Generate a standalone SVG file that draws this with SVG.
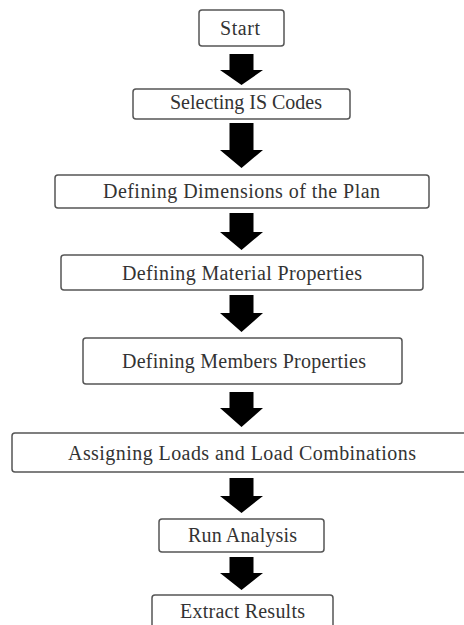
<svg xmlns="http://www.w3.org/2000/svg" width="464" height="625" viewBox="0 0 464 625">
<style>
.box{fill:#fff;stroke:#555;stroke-width:1.5}
.lbl{font-family:"Liberation Serif","Times New Roman",serif;font-size:20px;fill:#333;text-anchor:middle}
.arr{fill:#000}
</style>
<rect width="464" height="625" fill="#fff"/>
<g id="connectors">
<polygon class="arr" points="229.5,54 253.5,54 253.5,70 263,70 241.5,85 220,70 229.5,70"/>
<polygon class="arr" points="229.5,123 253.5,123 253.5,150 263,150 241.5,168 220,150 229.5,150"/>
<polygon class="arr" points="229.5,213 253.5,213 253.5,232 263,232 241.5,250 220,232 229.5,232"/>
<polygon class="arr" points="229.5,295 253.5,295 253.5,313 263,313 241.5,332 220,313 229.5,313"/>
<polygon class="arr" points="229.5,392 253.5,392 253.5,408 263,408 241.5,427 220,408 229.5,408"/>
<polygon class="arr" points="229.5,478 253.5,478 253.5,496 263,496 241.5,513 220,496 229.5,496"/>
<polygon class="arr" points="229.5,557 253.5,557 253.5,573 263,573 241.5,590 220,573 229.5,573"/>
</g>
<g id="start">
<rect class="box" x="199" y="10" width="85" height="36" rx="3"/>
<text class="lbl" x="240" y="35" textLength="40" lengthAdjust="spacing">Start</text>
</g>
<g id="is-codes">
<rect class="box" x="133" y="89" width="217" height="30" rx="3"/>
<text class="lbl" x="246" y="109" textLength="152" lengthAdjust="spacing">Selecting IS Codes</text>
</g>
<g id="dimensions">
<rect class="box" x="55" y="175" width="374" height="33" rx="3"/>
<text class="lbl" x="241.5" y="198" textLength="277" lengthAdjust="spacing">Defining Dimensions of the Plan</text>
</g>
<g id="material">
<rect class="box" x="61" y="255" width="362" height="35" rx="3"/>
<text class="lbl" x="242" y="280" textLength="240" lengthAdjust="spacing">Defining Material Properties</text>
</g>
<g id="members">
<rect class="box" x="83" y="338" width="319" height="46" rx="3"/>
<text class="lbl" x="244" y="368" textLength="244" lengthAdjust="spacing">Defining Members Properties</text>
</g>
<g id="loads">
<rect class="box" x="12" y="433" width="460" height="39" rx="3"/>
<text class="lbl" x="242" y="460" textLength="348" lengthAdjust="spacing">Assigning Loads and Load Combinations</text>
</g>
<g id="run">
<rect class="box" x="159" y="519" width="165" height="33" rx="3"/>
<text class="lbl" x="242.5" y="542" textLength="109" lengthAdjust="spacing">Run Analysis</text>
</g>
<g id="extract">
<rect class="box" x="152" y="595" width="181" height="40" rx="3"/>
<text class="lbl" x="242.5" y="618" textLength="125" lengthAdjust="spacing">Extract Results</text>
</g>
</svg>
